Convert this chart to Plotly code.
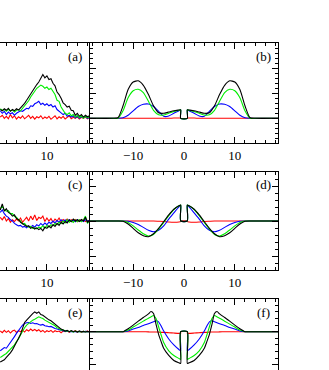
import plotly.graph_objects as go

# ---------------- data ----------------
X_L = [0.8, 1.2, 1.6, 2.0, 2.4, 2.8, 3.2, 3.6, 4.0, 4.4, 4.8, 5.2, 5.6, 6.0, 6.4,
       6.8, 7.2, 7.6, 8.0, 8.4, 8.8, 9.2, 9.6, 10.0, 10.4, 10.8, 11.2, 11.6, 12.0, 12.4,
       12.8, 13.2, 13.6, 14.0, 14.4, 14.8, 15.2, 15.6, 16.0, 16.4, 16.8, 17.2, 17.6, 18.0, 18.4]

# panel (a)
A_BLACK = [0.35, 0.3, 0.38, 0.32, 0.4, 0.28, 0.35, 0.3, 0.38, 0.33, 0.42, 0.5, 0.6, 0.72, 0.85,
           0.98, 1.12, 1.2, 1.35, 1.45, 1.6, 1.75, 1.62, 1.7, 1.55, 1.58, 1.4, 1.3, 1.05, 0.95,
           0.8, 0.62, 0.55, 0.45, 0.48, 0.32, 0.3, 0.12, 0.2, 0.08, 0.15, 0.05, 0.12, 0.06, 0.1]
A_GREEN = [0.38, 0.32, 0.35, 0.28, 0.36, 0.3, 0.33, 0.25, 0.32, 0.35, 0.3, 0.4, 0.48, 0.6, 0.7,
           0.85, 0.95, 1.08, 1.2, 1.25, 1.33, 1.28, 1.2, 1.25, 1.15, 1.2, 1.05, 0.95, 0.72, 0.68,
           0.45, 0.3, 0.2, 0.15, 0.22, 0.1, 0.15, 0.05, 0.12, 0.02, 0.1, 0.0, 0.08, 0.03, 0.06]
A_BLUE = [0.3, 0.2, 0.28, 0.15, 0.25, 0.18, 0.22, 0.12, 0.2, 0.25, 0.3, 0.28, 0.35, 0.4, 0.38,
          0.5, 0.48, 0.58, 0.62, 0.68, 0.55, 0.6, 0.52, 0.58, 0.5, 0.55, 0.45, 0.5, 0.35, 0.3,
          0.22, 0.15, 0.2, 0.08, 0.12, 0.05, 0.1, 0.02, 0.08, 0.0, 0.06, 0.02, 0.08, 0.0, 0.04]
A_RED = [0.05, 0.12, 0.0, 0.08, -0.02, 0.15, 0.02, 0.1, -0.03, 0.06, 0.0, 0.1, -0.02, 0.05, 0.12,
         0.0, 0.08, -0.03, 0.06, 0.02, 0.1, -0.02, 0.05, 0.0, 0.08, -0.04, 0.04, 0.1, -0.02, 0.06,
         0.0, 0.08, -0.03, 0.05, 0.1, -0.02, 0.04, 0.0, 0.06, -0.03, 0.04, 0.0, 0.05, -0.02, 0.03]

# panel (c)
C_BLACK = [0.45, 0.7, 0.4, 0.5, 0.35, 0.3, 0.2, 0.25, 0.1, 0.05, -0.05, -0.1, -0.15, -0.22, -0.2,
           -0.3, -0.25, -0.33, -0.28, -0.35, -0.3, -0.4, -0.25, -0.3, -0.2, -0.28, -0.15, -0.22, -0.1, -0.18,
           -0.05, -0.12, -0.02, -0.08, 0.05, -0.03, 0.08, 0.0, 0.05, -0.02, 0.06, 0.0, 0.15, -0.05, 0.02]
C_GREEN = [0.5, 0.6, 0.45, 0.4, 0.42, 0.3, 0.3, 0.18, 0.15, 0.05, 0.0, -0.12, -0.1, -0.2, -0.25,
           -0.22, -0.3, -0.28, -0.32, -0.25, -0.28, -0.2, -0.3, -0.18, -0.25, -0.15, -0.2, -0.1, -0.15, -0.05,
           -0.1, 0.0, -0.08, 0.05, -0.05, 0.02, -0.06, 0.04, -0.02, 0.05, -0.03, 0.04, 0.2, -0.1, 0.0]
C_BLUE = [0.35, 0.45, 0.3, 0.2, 0.15, 0.05, 0.0, -0.1, -0.15, -0.2, -0.18, -0.25, -0.22, -0.28, -0.2,
          -0.25, -0.18, -0.25, -0.15, -0.2, -0.1, -0.18, -0.08, -0.15, -0.05, -0.1, 0.0, -0.08, 0.02, -0.05,
          0.05, -0.02, 0.04, -0.03, 0.05, 0.0, 0.03, -0.03, 0.05, 0.0, 0.04, -0.02, 0.05, 0.0, 0.02]
C_RED = [0.15, 0.05, 0.18, 0.0, 0.1, -0.05, 0.05, -0.02, 0.08, 0.0, 0.12, -0.05, 0.05, 0.15, 0.0,
         0.2, 0.05, 0.25, 0.02, 0.15, 0.1, 0.2, -0.02, 0.12, 0.0, 0.1, -0.05, 0.08, 0.0, 0.12,
         -0.03, 0.06, 0.0, 0.08, -0.02, 0.05, 0.0, 0.06, -0.03, 0.04, 0.0, 0.05, -0.02, 0.03, 0.0]

# panel (e)
E_BLACK = [-0.92, -0.88, -0.85, -0.78, -0.72, -0.64, -0.55, -0.45, -0.32, -0.2, -0.08, 0.1, 0.28, 0.35, 0.42,
           0.5, 0.55, 0.6, 0.56, 0.6, 0.52, 0.5, 0.45, 0.42, 0.36, 0.33, 0.28, 0.22, 0.18, 0.12,
           0.08, 0.05, 0.02, 0.04, 0.0, 0.03, 0.0, 0.02, -0.01, 0.02, 0.0, 0.01, -0.01, 0.01, 0.0]
E_GREEN = [-0.78, -0.75, -0.7, -0.66, -0.6, -0.55, -0.48, -0.4, -0.3, -0.22, -0.1, 0.02, 0.12, 0.2, 0.25,
           0.32, 0.35, 0.38, 0.42, 0.45, 0.42, 0.4, 0.35, 0.32, 0.28, 0.25, 0.22, 0.18, 0.12, 0.1,
           0.05, 0.06, 0.02, 0.03, 0.0, 0.02, -0.01, 0.02, 0.0, 0.01, -0.01, 0.01, 0.0, 0.01, 0.0]
E_BLUE = [-0.58, -0.52, -0.48, -0.5, -0.42, -0.32, -0.25, -0.15, -0.05, 0.05, 0.12, 0.2, 0.25, 0.27, 0.28,
          0.25, 0.27, 0.24, 0.25, 0.22, 0.2, 0.22, 0.18, 0.17, 0.15, 0.16, 0.12, 0.1, 0.08, 0.06,
          0.04, 0.03, 0.01, 0.02, 0.0, 0.01, 0.0, 0.01, 0.0, 0.01, 0.0, 0.0, 0.01, 0.0, 0.0]
E_RED = [0.02, -0.03, 0.04, -0.02, 0.03, -0.04, 0.02, 0.05, -0.02, 0.03, 0.0, 0.05, -0.01, 0.06, 0.02,
         0.08, 0.03, 0.07, 0.02, 0.06, 0.0, 0.04, -0.02, 0.03, 0.0, 0.04, -0.02, 0.03, 0.0, 0.02,
         -0.03, 0.02, 0.0, 0.03, -0.02, 0.02, 0.0, 0.03, -0.01, 0.02, -0.02, 0.01, 0.0, 0.02, -0.01]

# panels (b), (d): theory curves
X_R = [-18.5, -14, -13, -12, -11, -10, -9, -8, -7, -6, -5, -4, -3, -2, -1, -0.65,
       -0.65, 0.65,
       0.65, 1, 2, 3, 4, 5, 6, 7, 8, 9, 10, 11, 12, 13, 14, 18.5]

B_BLACK = [0, 0, 0.02, 0.5, 1.15, 1.45, 1.5, 1.32, 0.95, 0.5, 0.22, 0.2, 0.25, 0.3, 0.33, 0.34,
           0, 0,
           0.34, 0.33, 0.3, 0.25, 0.2, 0.22, 0.5, 0.95, 1.32, 1.5, 1.45, 1.15, 0.5, 0.02, 0, 0]
B_GREEN = [0, 0, 0.0, 0.3, 0.82, 1.1, 1.16, 1.03, 0.68, 0.32, 0.14, 0.13, 0.2, 0.27, 0.32, 0.34,
           0, 0,
           0.34, 0.32, 0.27, 0.2, 0.13, 0.14, 0.32, 0.68, 1.03, 1.16, 1.1, 0.82, 0.3, 0.0, 0, 0]
B_BLUE = [0, 0, 0.0, 0.02, 0.12, 0.3, 0.47, 0.56, 0.57, 0.47, 0.28, 0.08, 0.09, 0.2, 0.3, 0.34,
          0, 0,
          0.34, 0.3, 0.2, 0.09, 0.08, 0.28, 0.47, 0.57, 0.56, 0.47, 0.3, 0.12, 0.02, 0.0, 0, 0]
B_RED = [0, 0, 0, 0, 0, 0, 0, 0, 0, 0, 0, 0, 0, 0.01, 0.01, 0.01,
         0, 0,
         0.01, 0.01, 0.01, 0, 0, 0, 0, 0, 0, 0, 0, 0, 0, 0, 0, 0]

D_BLACK = [0, 0, 0, -0.01, -0.12, -0.3, -0.48, -0.6, -0.64, -0.52, -0.3, -0.03, 0.25, 0.48, 0.62, 0.65,
           0, 0,
           0.65, 0.62, 0.48, 0.25, -0.03, -0.3, -0.52, -0.64, -0.6, -0.48, -0.3, -0.12, -0.01, 0, 0, 0]
D_GREEN = [0, 0, 0, 0.0, -0.06, -0.2, -0.37, -0.52, -0.61, -0.55, -0.33, -0.06, 0.22, 0.47, 0.62, 0.65,
           0, 0,
           0.65, 0.62, 0.47, 0.22, -0.06, -0.33, -0.55, -0.61, -0.52, -0.37, -0.2, -0.06, 0.0, 0, 0, 0]
D_BLUE = [0, 0, 0, 0.0, -0.01, -0.06, -0.14, -0.26, -0.38, -0.44, -0.38, -0.2, 0.08, 0.33, 0.58, 0.64,
          0, 0,
          0.64, 0.58, 0.33, 0.08, -0.2, -0.38, -0.44, -0.38, -0.26, -0.14, -0.06, -0.01, 0.0, 0, 0, 0]
D_RED = [0, 0, 0, 0, 0, 0, 0, 0, 0, 0, -0.01, -0.02, -0.04, -0.05, -0.04, -0.02,
         0, 0,
         -0.02, -0.04, -0.05, -0.04, -0.02, -0.01, 0, 0, 0, 0, 0, 0, 0, 0, 0, 0]

# panel (f): theory curves
X_F = [-18.5, -14, -13, -12, -11, -10, -9, -8, -7, -6.5, -6, -5.5, -5, -4.5, -4, -3, -2, -1, -0.65,
       -0.65, 0.65,
       0.65, 1, 2, 3, 4, 4.5, 5, 5.5, 6, 6.5, 7, 8, 9, 10, 11, 12, 13, 14, 18.5]
F_BLACK = [0, 0, 0, 0.0, 0.09, 0.2, 0.32, 0.43, 0.54, 0.61, 0.55, 0.22, -0.08, -0.3, -0.5, -0.72, -0.87, -0.94, -0.96,
           0, 0,
           -0.96, -0.94, -0.87, -0.72, -0.5, -0.3, -0.08, 0.22, 0.55, 0.61, 0.54, 0.43, 0.32, 0.2, 0.09, 0.0, 0, 0, 0]
F_GREEN = [0, 0, 0, 0.0, 0.05, 0.14, 0.23, 0.32, 0.41, 0.45, 0.49, 0.4, 0.15, -0.1, -0.33, -0.58, -0.72, -0.81, -0.84,
           0, 0,
           -0.84, -0.81, -0.72, -0.58, -0.33, -0.1, 0.15, 0.4, 0.49, 0.45, 0.41, 0.32, 0.23, 0.14, 0.05, 0.0, 0, 0, 0]
F_BLUE = [0, 0, 0, 0.0, 0.02, 0.08, 0.13, 0.19, 0.24, 0.27, 0.3, 0.33, 0.3, 0.17, 0.02, -0.22, -0.4, -0.54, -0.58,
          0, 0,
          -0.58, -0.54, -0.4, -0.22, 0.02, 0.17, 0.3, 0.33, 0.3, 0.27, 0.24, 0.19, 0.13, 0.08, 0.02, 0.0, 0, 0, 0]
F_RED = [0, 0, 0, 0, 0, 0, 0, 0, -0.005, -0.01, -0.01, -0.01, -0.01, -0.02, -0.02, -0.03, -0.04, -0.05, -0.05,
         0, 0,
         -0.05, -0.05, -0.04, -0.03, -0.02, -0.02, -0.01, -0.01, -0.01, -0.01, -0.005, 0, 0, 0, 0, 0, 0, 0, 0]

PANEL_LABELS = ["(a)", "(b)", "(c)", "(d)", "(e)", "(f)"]
X_TICKS = [-10, 0, 10]

# ---------------- figure ----------------
W, H = 329, 370
COLORS = {"red": "#ff0000", "blue": "#0000ff", "green": "#00ee00", "black": "#000000"}
FONT = "Liberation Serif, Times New Roman, serif"

panels = [
    (X_L, [A_RED, A_BLUE, A_GREEN, A_BLACK], "linear"),
    (X_R, [B_RED, B_BLUE, B_GREEN, B_BLACK], "spline"),
    (X_L, [C_RED, C_BLUE, C_GREEN, C_BLACK], "linear"),
    (X_R, [D_RED, D_BLUE, D_GREEN, D_BLACK], "spline"),
    (X_L, [E_RED, E_BLUE, E_GREEN, E_BLACK], "linear"),
    (X_F, [F_RED, F_BLUE, F_GREEN, F_BLACK], "spline"),
]
order = ["red", "blue", "green", "black"]

fig = go.Figure()
for k, (xs, series, shape) in enumerate(panels, start=1):
    for name, ys in zip(order, series):
        line = dict(color=COLORS[name], width=1.1, shape=shape)
        if shape == "spline":
            line["smoothing"] = 0.6
        fig.add_trace(go.Scatter(x=xs, y=ys, mode="lines", line=line,
                                 xaxis=f"x{k}", yaxis=f"y{k}", showlegend=False,
                                 hoverinfo="skip"))

col_dom = [[0, 90 / W], [90 / W, 278 / W]]
col_rng = [[0.75, 18.5], [-18.5, 18.5]]
row_dom = [[1 - 143.3 / H, 1 - 43.3 / H], [1 - 270 / H, 1 - 172 / H], [0, 1 - 298.7 / H]]
row_rng = [[-1, 3], [-2, 2], [-1.16, 1]]
row_dtick = [(1, 0.2), (10 / 7, 2 / 7), (1, 0.2)]

layout = dict(template="none", width=W, height=H, margin=dict(l=0, r=0, t=0, b=0, pad=0),
              paper_bgcolor="white", plot_bgcolor="white", showlegend=False,
              font=dict(family=FONT, size=13, color="black"))

for r in range(3):
    for c in range(2):
        k = 2 * r + c + 1
        sfx = "" if k == 1 else str(k)
        bottom_row = (r == 2)
        xa = dict(domain=col_dom[c], range=col_rng[c], anchor=f"y{k}",
                  showgrid=False, zeroline=False, showline=True, linecolor="black", linewidth=1,
                  ticks="inside", ticklen=6, tickwidth=1, tickcolor="black",
                  tickmode="array", tickvals=X_TICKS,
                  minor=dict(dtick=2, tick0=0, ticks="inside", ticklen=3, tickcolor="black",
                             tickwidth=1, showgrid=False),
                  tickfont=dict(family=FONT, size=13, color="black"), fixedrange=True)
        if bottom_row:
            xa.update(side="top", mirror=False, showticklabels=False)
        else:
            xa.update(mirror="ticks", showticklabels=True)
        dt, mdt = row_dtick[r]
        ya = dict(domain=row_dom[r], range=row_rng[r], anchor=f"x{k}",
                  showgrid=False, zeroline=False, showticklabels=False, fixedrange=True)
        if c == 1:
            ya.update(showline=True, linecolor="black", linewidth=1, mirror="ticks",
                      ticks="inside", ticklen=6, tickwidth=1, tickcolor="black",
                      tick0=0, dtick=dt,
                      minor=dict(dtick=mdt, tick0=0, ticks="inside", ticklen=3,
                                 tickcolor="black", tickwidth=1, showgrid=False))
        else:
            ya.update(showline=False, ticks="")
        layout[f"xaxis{sfx}"] = xa
        layout[f"yaxis{sfx}"] = ya

label_pos = [(83.5, 56.7), (272.5, 56.7), (83.5, 184), (273, 184), (83.5, 312.5), (272, 312.5)]
annotations = []
for text, (px, py) in zip(PANEL_LABELS, label_pos):
    annotations.append(dict(text=text, x=px / W, y=1 - py / H, xref="paper", yref="paper",
                            xanchor="right", yanchor="middle", showarrow=False,
                            font=dict(family=FONT, size=13, color="black")))
layout["annotations"] = annotations

fig.update_layout(**layout)
fig.write_html("out.html", config={"displayModeBar": False, "staticPlot": True},
               post_script="document.body.style.margin='0';document.body.style.padding='0';")
